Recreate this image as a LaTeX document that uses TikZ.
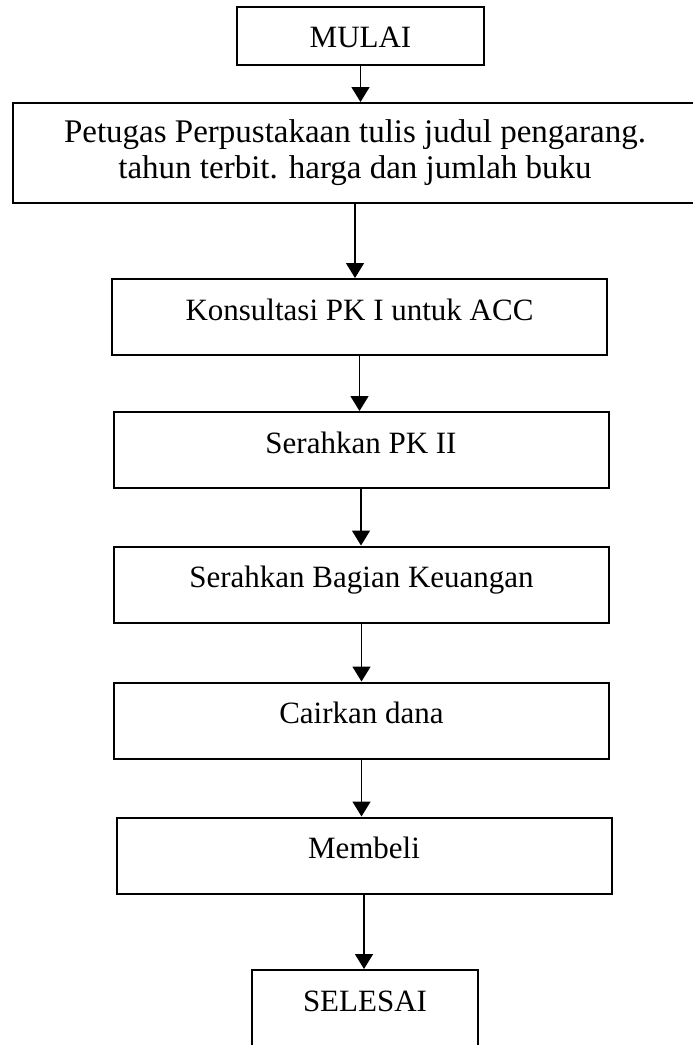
\documentclass[tikz,border=0pt]{standalone}
\usepackage{fontspec}
\setmainfont{Liberation Serif}
\usetikzlibrary{arrows.meta}
\usetikzlibrary{positioning}

\begin{document}
\begin{tikzpicture}[x=0.5pt, y=-0.5pt,
    kotak/.style={draw, line width=1pt, inner sep=0pt, minimum width=247.5pt,
      text height=20.6pt, text depth=17.4pt, font=\fontsize{15.5}{17.5}\selectfont},
    panah/.style={-{Triangle[length=7.5pt, width=9pt]}, line width=0.8pt}]
  \useasboundingbox (0,0) rectangle (692,1045);

  \node [kotak, minimum width=123.5pt, text height=20pt, text depth=9pt] (mulai) at (360.5,36) {MULAI};
  \node [kotak, minimum width=342pt, minimum height=50pt, text height=, text depth=, align=center,
    font=\fontsize{16.5}{18}\selectfont] (tulis) at (355,153)
    {Petugas Perpustakaan tulis judul pengarang.\\ tahun terbit. harga dan jumlah buku};
  \node [kotak] (konsul) at (359.5,317) {Konsultasi PK I untuk ACC};
  \node [kotak] (pkdua) at (361,450) {Serahkan PK II};
  \node [kotak] (uang) at (361.5,584.5) {Serahkan Bagian Keuangan};
  \node [kotak] (cair) at (361.5,720.5) {Cairkan dana};
  \node [kotak] (beli) at (364,855.5) {Membeli};
  \node [kotak, minimum width=113pt] (selesai) at (365,1008) {SELESAI};

  \draw [panah] (mulai.south) -- (mulai.south |- tulis.north);
  \draw [panah] (tulis.south) -- (tulis.south |- konsul.north);
  \draw [panah] (konsul.south) -- (konsul.south |- pkdua.north);
  \draw [panah] (pkdua.south) -- (pkdua.south |- uang.north);
  \draw [panah] (uang.south) -- (uang.south |- cair.north);
  \draw [panah] (cair.south) -- (cair.south |- beli.north);
  \draw [panah] (beli.south) -- (beli.south |- selesai.north);
\end{tikzpicture}
\end{document}
